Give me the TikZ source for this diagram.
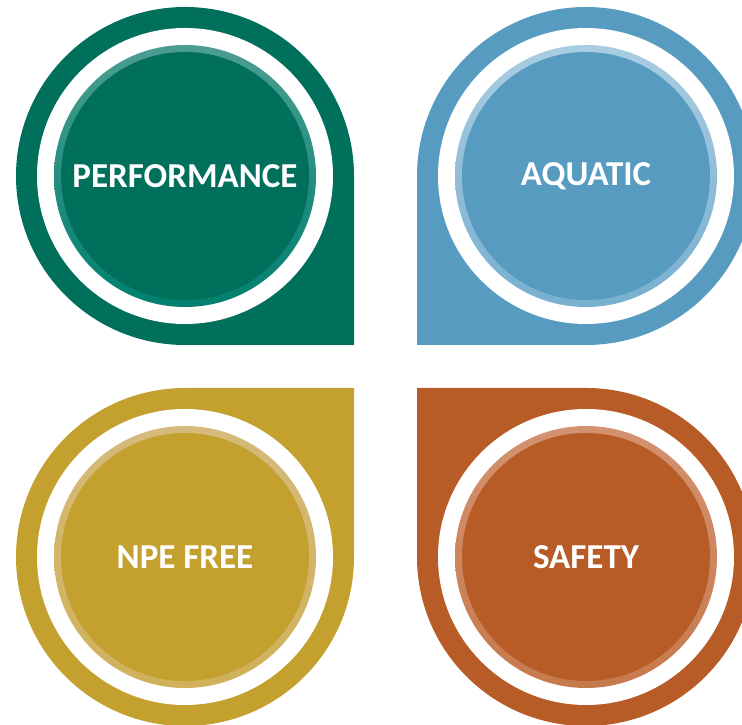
\documentclass[tikz,border=0pt]{standalone}
\usepackage{fontspec}
\setmainfont{Carlito}
\usepackage{xcolor}
\usetikzlibrary{calc}

\definecolor{perfgreen}{HTML}{006F5C}
\definecolor{perfrimtop}{HTML}{4B9D91}
\definecolor{perfrimbot}{HTML}{00806F}
\definecolor{aquablue}{HTML}{579CC0}
\definecolor{aquarimtop}{HTML}{A9CDE2}
\definecolor{aquarimbot}{HTML}{78AFCF}
\definecolor{npegold}{HTML}{C4A02E}
\definecolor{npurimtop}{HTML}{D5BA7C}
\definecolor{npurimbot}{HTML}{D0B15A}
\definecolor{safeorange}{HTML}{B85C27}
\definecolor{saferimtop}{HTML}{D39270}
\definecolor{saferimbot}{HTML}{C67A4C}

\begin{document}
\begin{tikzpicture}[x=1pt, y=1pt,
    dropname/.style={text=white, font=\fontsize{35}{40}\selectfont\bfseries, inner sep=0pt}]
    \useasboundingbox (0,0) rectangle (742,725);
    \clip (0,0) rectangle (742,725);

    % Centres of the four drops
    \coordinate (perfc) at (185,549);
    \coordinate (aquac) at (586,549);
    \coordinate (npec) at (185,168);
    \coordinate (safec) at (586,168);

    % Performance drop, corner at bottom right
    \fill[perfgreen] ($(perfc)+(169,0)$) arc (0:270:169) -- ++(169,0) -- cycle;
    \fill[white] (perfc) circle (148);
    \shade[top color=perfrimtop, bottom color=perfrimbot] (perfc) circle (131);
    \fill[perfgreen] (perfc) circle (124);
    \node[dropname] (perf) at (perfc) {PERFORMANCE};

    % Aquatic drop, corner at bottom left
    \fill[aquablue] ($(aquac)+(0,-169)$) arc (-90:180:169) -- ++(0,-169) -- cycle;
    \fill[white] (aquac) circle (148);
    \shade[top color=aquarimtop, bottom color=aquarimbot] (aquac) circle (131);
    \fill[aquablue] (aquac) circle (124);
    \node[dropname] (aqua) at (aquac) {AQUATIC};

    % NPE free drop, corner at top right
    \fill[npegold] ($(npec)+(0,169)$) arc (90:360:169) -- ++(0,169) -- cycle;
    \fill[white] (npec) circle (148);
    \shade[top color=npurimtop, bottom color=npurimbot] (npec) circle (131);
    \fill[npegold] (npec) circle (124);
    \node[dropname] (npe) at (npec) {NPE FREE};

    % Safety drop, corner at top left
    \fill[safeorange] ($(safec)+(-169,0)$) arc (180:450:169) -- ++(-169,0) -- cycle;
    \fill[white] (safec) circle (148);
    \shade[top color=saferimtop, bottom color=saferimbot] (safec) circle (131);
    \fill[safeorange] (safec) circle (124);
    \node[dropname] (safe) at (safec) {SAFETY};
\end{tikzpicture}
\end{document}
